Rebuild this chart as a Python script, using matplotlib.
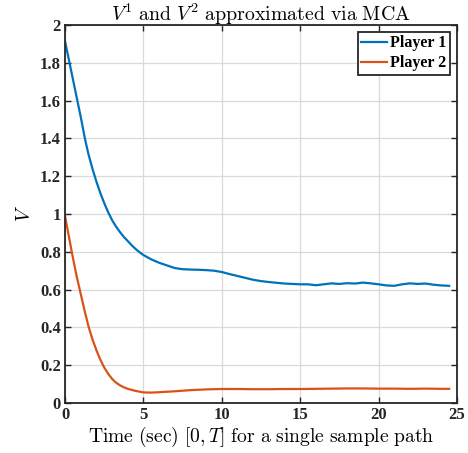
import matplotlib
matplotlib.use("Agg")
import matplotlib.pyplot as plt

plt.rcParams['mathtext.fontset'] = 'cm'

# Player 1
t1 = [0, 0.25, 0.5, 0.75, 1.0, 1.28, 1.5, 1.75, 2.0, 2.25, 2.5, 2.75, 3.0, 3.25, 3.5, 3.75,
      4.0, 4.25, 4.5, 4.75, 5.0, 5.5, 6.0, 6.5, 7.0, 7.5, 8.0, 8.5, 9.0, 9.5, 10.0, 10.5,
      11.0, 11.5, 12.0, 12.5, 13.0, 13.5, 14.0, 14.5, 15.0, 15.5, 16.0, 16.5, 17.0, 17.5,
      18.0, 18.5, 19.0, 19.5, 20.0, 20.5, 21.0, 21.5, 22.0, 22.5, 23.0, 23.5, 24.0, 24.5]
v1 = [1.915, 1.815, 1.715, 1.615, 1.515, 1.395, 1.315, 1.24, 1.172, 1.112, 1.058, 1.01, 0.968,
      0.934, 0.905, 0.879, 0.857, 0.835, 0.815, 0.798, 0.783, 0.76, 0.742, 0.728, 0.714, 0.708,
      0.706, 0.705, 0.703, 0.70, 0.693, 0.682, 0.672, 0.662, 0.652, 0.645, 0.640, 0.636, 0.632,
      0.630, 0.628, 0.628, 0.623, 0.628, 0.633, 0.630, 0.634, 0.632, 0.637, 0.633, 0.628, 0.622,
      0.620, 0.628, 0.633, 0.630, 0.632, 0.626, 0.622, 0.620]

# Player 2
t2 = [0, 0.25, 0.5, 0.75, 1.0, 1.25, 1.5, 1.75, 2.0, 2.25, 2.5, 2.75, 3.0, 3.25, 3.5, 3.75,
      4.0, 4.5, 5.0, 5.5, 6.0, 7.0, 8.0, 9.0, 10.0, 11.0, 12.0, 13.0, 14.0, 15.0,
      16.0, 17.0, 18.0, 19.0, 20.0, 21.0, 22.0, 23.0, 24.0, 24.5]
v2 = [0.99, 0.88, 0.77, 0.668, 0.578, 0.488, 0.405, 0.337, 0.28, 0.23, 0.188, 0.155, 0.128, 0.108,
      0.094, 0.083, 0.075, 0.064, 0.056, 0.055, 0.057, 0.062, 0.068, 0.072, 0.074,
      0.074, 0.073, 0.073, 0.074, 0.074, 0.075, 0.076, 0.077, 0.077, 0.076, 0.076, 0.075, 0.076,
      0.075, 0.075]

labels = ["Player 1", "Player 2"]
xticks = [0, 5, 10, 15, 20, 25]
yticks = [0, 0.2, 0.4, 0.6, 0.8, 1, 1.2, 1.4, 1.6, 1.8, 2]
yticklabels = ["0", "0.2", "0.4", "0.6", "0.8", "1", "1.2", "1.4", "1.6", "1.8", "2"]

fig = plt.figure(figsize=(4.68, 4.53), dpi=100)
ax = fig.add_axes([65/468, 1-403/453, 392/468, 378/453])

ax.plot(t1, v1, color='#0072BD', lw=1.6, label=labels[0])
ax.plot(t2, v2, color='#D95319', lw=1.6, label=labels[1])

ax.set_xlim(0, 25)
ax.set_ylim(0, 2)
ax.set_xticks(xticks)
ax.set_yticks(yticks)
ax.set_yticklabels(yticklabels)
ax.grid(True, color='#d9d9d9', lw=0.9)
ax.set_axisbelow(True)
ax.tick_params(direction='in', top=True, right=True, length=4, width=1, color='#262626', pad=3)
for lab in ax.get_xticklabels() + ax.get_yticklabels():
    lab.set_fontfamily('Liberation Serif')
    lab.set_fontweight('bold')
    lab.set_fontsize(12)
    lab.set_color('#262626')
for s in ax.spines.values():
    s.set_linewidth(1.3)
    s.set_color('#262626')

ax.set_title(r'$V^1\ \mathrm{and}\ V^2\ \mathrm{approximated\ via\ MCA}$', fontsize=14.3, pad=3)
ax.set_xlabel(r'$\mathrm{Time\ (sec)}\ [0,T]\ \mathrm{for\ a\ single\ sample\ path}$', fontsize=14.1, labelpad=1)
ax.set_ylabel(r'$V$', fontsize=14, labelpad=4)

leg = ax.legend(loc='upper right', prop={'family': 'Liberation Serif', 'weight': 'bold', 'size': 11.5},
                frameon=True, fancybox=False, edgecolor='#262626', framealpha=1,
                handlelength=1.65, handletextpad=0.2, borderpad=0.2, labelspacing=0.25,
                borderaxespad=0.45)
leg.get_frame().set_linewidth(1.3)

fig.savefig('out.png', dpi=100)
